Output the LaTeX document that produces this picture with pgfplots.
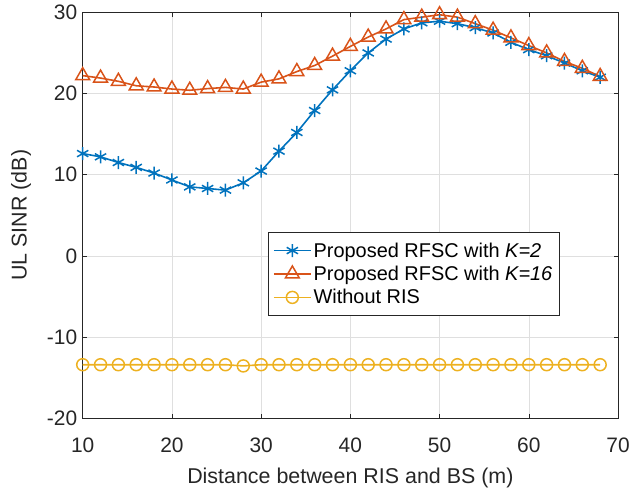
\documentclass[border=0pt]{standalone}
\usepackage{pgfplots}
\pgfplotsset{compat=1.18}
\usepackage{fontspec}
\setmainfont{Liberation Sans}
\definecolor{c1}{rgb}{0,0.447,0.741}
\definecolor{c2}{rgb}{0.85,0.325,0.098}
\definecolor{c3}{rgb}{0.929,0.694,0.125}
\definecolor{tc}{rgb}{0.15,0.15,0.15}
\begin{document}
\begin{tikzpicture}[x=1bp,y=1bp]
\path[use as bounding box] (0,0) rectangle (630,493);
\begin{axis}[
  at={(82.7bp,74.7bp)}, anchor=south west,
  scale only axis, width=535.3bp, height=406bp,
  xmin=10, xmax=70, ymin=-20, ymax=30,
  xtick={10,20,...,70}, ytick={-20,-10,...,30},
  grid=major, major grid style={gray!25, line width=0.5pt},
  tick align=inside, tick style={tc, line width=0.5pt},
  axis line style={tc, line width=0.6pt},
  /pgf/number format/assume math mode=true,
  ticklabel style={font=\fontsize{21}{24}\selectfont, text=tc},
  xticklabel style={yshift=-16bp},
  yticklabel style={xshift=-2bp},
  label style={font=\fontsize{21.5}{24}\selectfont, text=tc},
  xlabel style={yshift=-9bp},
  ylabel style={yshift=9bp},
  xlabel={Distance between RIS and BS (m)},
  ylabel={UL SINR (dB)},
  legend image code/.code={\draw[mark repeat=2,mark phase=2,#1] plot coordinates {(0bp,0bp) (18.5bp,0bp) (37bp,0bp)};},
  legend style={at={(0.3458,0.458)}, anchor=north west, font=\fontsize{20}{23}\selectfont, draw=tc, line width=0.5pt, row sep=3.5bp, inner xsep=5bp, inner ysep=8bp, text=black},
  legend cell align=left,
]
\addplot[c1, line width=1.6pt, mark=asterisk, mark size=6.5bp, mark options={line width=1.5pt}] coordinates {
(10,12.6)(12,12.2)(14,11.5)(16,10.9)(18,10.2)(20,9.35)(22,8.5)(24,8.3)(26,8.1)(28,9.0)
(30,10.45)(32,12.9)(34,15.2)(36,17.9)(38,20.45)(40,22.8)(42,25.0)(44,26.7)(46,27.95)(48,28.7)
(50,28.9)(52,28.6)(54,28.1)(56,27.45)(58,26.3)(60,25.4)(62,24.65)(64,23.75)(66,22.8)(68,22.0)};
\addlegendentry{Proposed RFSC with \textit{K=2}}
\addplot[c2, line width=1.6pt, mark=triangle, mark size=8bp, mark options={line width=1.5pt}] coordinates {
(10,22.2)(12,21.9)(14,21.5)(16,20.95)(18,20.8)(20,20.55)(22,20.4)(24,20.6)(26,20.75)(28,20.55)
(30,21.4)(32,21.8)(34,22.7)(36,23.45)(38,24.6)(40,25.8)(42,26.95)(44,27.95)(46,29.1)(48,29.4)
(50,29.7)(52,29.4)(54,28.6)(56,27.8)(58,26.85)(60,25.9)(62,25.0)(64,23.95)(66,23.1)(68,22.1)};
\addlegendentry{Proposed RFSC with \textit{K=16}}
\addplot[c3, line width=1.6pt, mark=o, mark size=6bp, mark options={line width=1.5pt}] coordinates {
(10,-13.4)(12,-13.4)(14,-13.4)(16,-13.4)(18,-13.4)(20,-13.4)(22,-13.4)(24,-13.4)(26,-13.4)(28,-13.55)
(30,-13.4)(32,-13.4)(34,-13.4)(36,-13.4)(38,-13.4)(40,-13.4)(42,-13.4)(44,-13.4)(46,-13.4)(48,-13.4)
(50,-13.4)(52,-13.4)(54,-13.4)(56,-13.4)(58,-13.4)(60,-13.4)(62,-13.4)(64,-13.4)(66,-13.4)(68,-13.4)};
\addlegendentry{Without RIS}
\end{axis}
\end{tikzpicture}
\end{document}
